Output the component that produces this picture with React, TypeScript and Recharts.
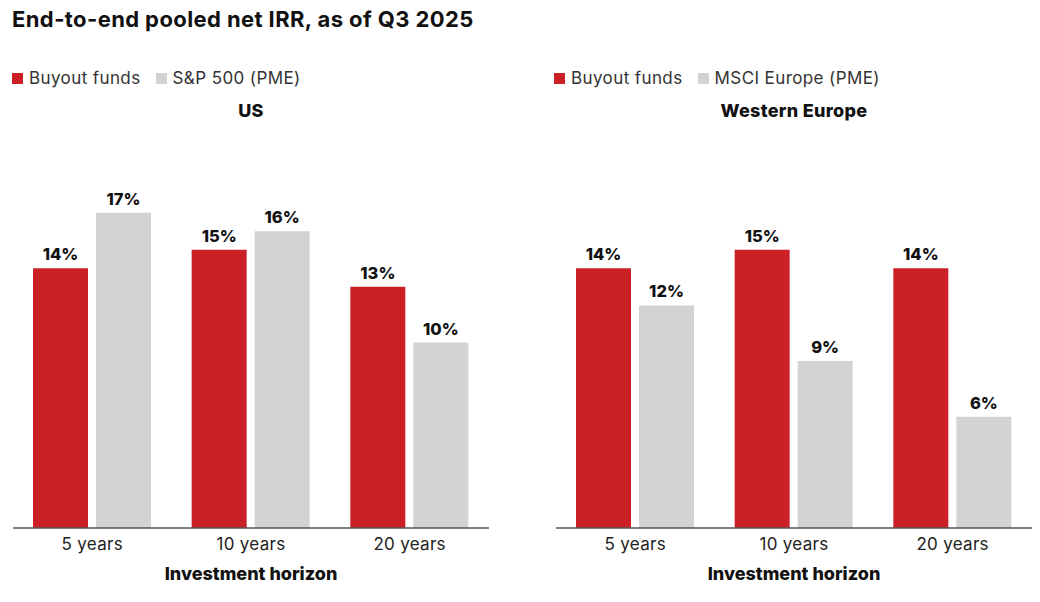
import React from "react";
import { BarChart, Bar, XAxis, YAxis, LabelList } from "recharts";

const horizons = ["5 years", "10 years", "20 years"];
const usBuyout = [14, 15, 13];
const usSP500 = [17, 16, 10];
const euBuyout = [14, 15, 14];
const euMSCI = [12, 9, 6];

const RED = "#cc2027";
const GRAY = "#d3d3d3";
const FONT = "Inter, 'Noto Sans', sans-serif";

const usData = horizons.map((h, i) => ({ h, a: usBuyout[i], b: usSP500[i] }));
const euData = horizons.map((h, i) => ({ h, a: euBuyout[i], b: euMSCI[i] }));

const LegendBox = ({ names, left }: { names: string[]; left: number }) => (
  <div
    style={{
      position: "absolute",
      left,
      top: 68,
      display: "flex",
      alignItems: "center",
      fontFamily: FONT,
      fontSize: 17,
      letterSpacing: 0.4,
      color: "#333",
      whiteSpace: "nowrap",
    }}
  >
    <span style={{ width: 11, height: 11, background: RED, display: "inline-block", marginRight: 6 }} />
    <span style={{ marginRight: 15 }}>{names[0]}</span>
    <span style={{ width: 11, height: 11, background: GRAY, display: "inline-block", marginRight: 6 }} />
    <span>{names[1]}</span>
  </div>
);

const labelStyle = { fill: "#111", fontSize: 16.5, fontWeight: 800, fontFamily: FONT };

const Panel = ({ data, left, mLeft, mRight, legendNames, legendLeft, subtitle }: any) => (
  <div style={{ position: "absolute", left, top: 0, width: 520, height: 602 }}>
    <BarChart
      width={520}
      height={602}
      data={data}
      margin={{ top: 157, right: mRight, bottom: 44, left: mLeft }}
      barSize={55}
      barGap={8}
    >
      <YAxis hide domain={[0, 20]} />
      <XAxis
        dataKey="h"
        height={30}
        axisLine={{ stroke: "#555", strokeWidth: 1.5 }}
        tickLine={false}
        tick={{ fill: "#222", fontSize: 17, fontFamily: FONT, letterSpacing: 0.3, dy: 2 }}
        label={{
          value: "Investment horizon",
          position: "bottom",
          offset: 9,
          fill: "#111",
          fontSize: 18,
          fontWeight: 800,
          fontFamily: FONT,
        }}
      />
      <Bar dataKey="a" fill={RED} isAnimationActive={false}>
        <LabelList dataKey="a" position="top" offset={8} formatter={(v: any) => `${v}%`} style={labelStyle} />
      </Bar>
      <Bar dataKey="b" fill={GRAY} isAnimationActive={false}>
        <LabelList dataKey="b" position="top" offset={8} formatter={(v: any) => `${v}%`} style={labelStyle} />
      </Bar>
      <text
        x={mLeft + (520 - mLeft - mRight) / 2}
        y={117}
        textAnchor="middle"
        fontFamily={FONT}
        fontSize={18}
        fontWeight={800}
        letterSpacing={0.3}
        fill="#111"
      >
        {subtitle}
      </text>
    </BarChart>
    <LegendBox names={legendNames} left={legendLeft} />
  </div>
);

export default function App() {
  return (
    <div style={{ position: "absolute", left: 0, top: 0, width: 1040, height: 602, background: "#fff" }}>
      <div
        style={{
          position: "absolute",
          left: 12,
          top: 6,
          fontFamily: FONT,
          fontSize: 22,
          fontWeight: 700,
          letterSpacing: 0.4,
          color: "#111",
          whiteSpace: "nowrap",
        }}
      >
        End-to-end pooled net IRR, as of Q3 2025
      </div>
      <Panel data={usData} left={0} mLeft={13} mRight={31} legendNames={["Buyout funds", "S&P 500 (PME)"]} legendLeft={12} subtitle="US" />
      <Panel data={euData} left={520} mLeft={36} mRight={8} legendNames={["Buyout funds", "MSCI Europe (PME)"]} legendLeft={34} subtitle="Western Europe" />
    </div>
  );
}
